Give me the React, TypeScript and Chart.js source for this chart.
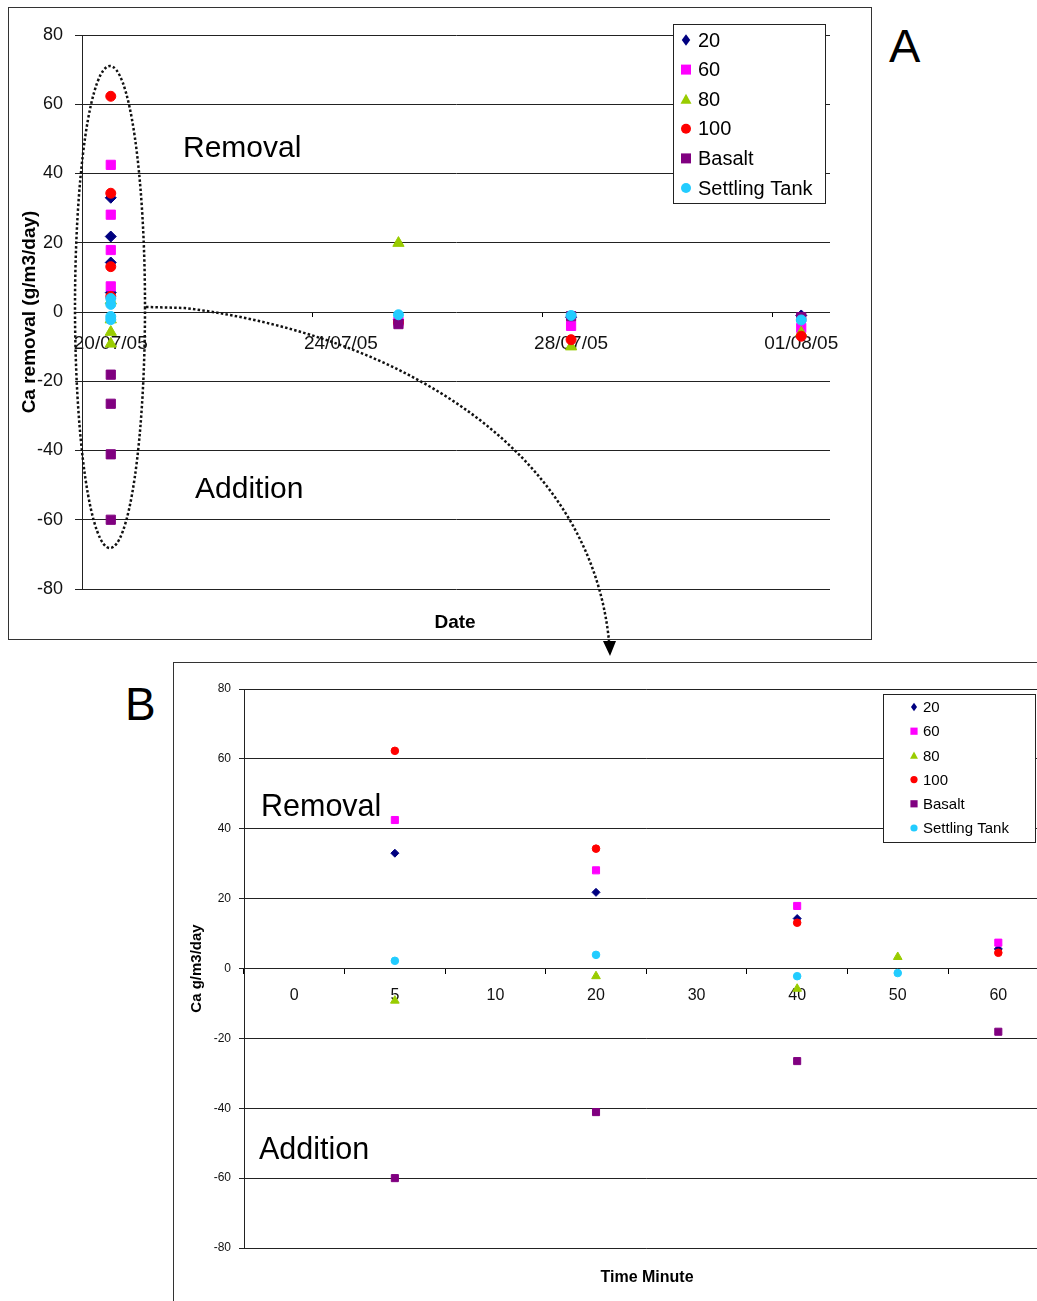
import React, { useEffect, useRef } from 'react';
import { Chart, registerables } from 'chart.js';

Chart.register(...registerables);

const FONT = "'Liberation Sans', Arial, Helvetica, sans-serif";
Chart.defaults.font.family = FONT;

// ---------- series definitions ----------
const seriesNames = ['20', '60', '80', '100', 'Basalt', 'Settling Tank'];
const seriesColors = ['#000080', '#FF00FF', '#99CC00', '#FF0000', '#800080', '#22CCFF'];
const seriesShapes = ['rectRot', 'rect', 'triangle', 'circle', 'rect', 'circle'];

// ---------- Chart B: minutes on 20/07/05 ----------
const minuteLabels = ['0', '5', '10', '20', '30', '40', '50', '60'];
const minutes20 = ['5', '20', '40', '60'];
const values20 = [33.0, 21.8, 14.3, 5.6];
const minutes60 = ['5', '20', '40', '60'];
const values60 = [42.5, 28.1, 17.9, 7.4];
const minutes80 = ['5', '20', '40', '50'];
const values80 = [-9.2, -2.2, -5.8, 3.3];
const minutes100 = ['5', '20', '40', '60'];
const values100 = [62.3, 34.3, 13.1, 4.5];
const minutesBasalt = ['5', '20', '40', '60'];
const valuesBasalt = [-60.0, -41.1, -26.5, -18.1];
const minutesSettling = ['5', '20', '40', '50'];
const valuesSettling = [2.2, 3.9, -2.2, -1.3];

// ---------- Chart A: dates ----------
const dateLabels = [
  '20/07/05', '21/07/05', '22/07/05', '23/07/05', '24/07/05', '25/07/05', '26/07/05',
  '27/07/05', '28/07/05', '29/07/05', '30/07/05', '31/07/05', '01/08/05',
];
const firstDate = '20/07/05';
const laterDates = ['25/07/05', '28/07/05', '01/08/05'];
const later20 = [-2.3, -1.5, -1.0];
const later60 = [-2.8, -4.0, -4.6];
const later80 = [19.9, -10.0, -6.0];
const later100 = [-3.0, -8.0, -7.0];
const laterBasalt = [-3.5, -1.2, -1.5];
const laterSettling = [-0.8, -1.0, -2.3];

const minuteSets = [minutes20, minutes60, minutes80, minutes100, minutesBasalt, minutesSettling];
const valueSets = [values20, values60, values80, values100, valuesBasalt, valuesSettling];
const laterSets = [later20, later60, later80, later100, laterBasalt, laterSettling];

const radiusA: Record<string, number> = { rectRot: 5.5, rect: 6.5, triangle: 6.5, circle: 5 };
const radiusB: Record<string, number> = { rectRot: 4, rect: 5, triangle: 5, circle: 3.8 };

function datasetsA() {
  return seriesNames.map((name, i) => ({
    label: name,
    data: valueSets[i]
      .map((v) => ({ x: firstDate, y: v }))
      .concat(laterDates.map((d, j) => ({ x: d, y: laterSets[i][j] }))),
    pointStyle: seriesShapes[i],
    pointRadius: radiusA[seriesShapes[i]],
    pointBackgroundColor: seriesColors[i],
    pointBorderColor: seriesColors[i],
    pointBorderWidth: 1,
    showLine: false,
    order: seriesNames.length - i,
  }));
}

function datasetsB() {
  return seriesNames.map((name, i) => ({
    label: name,
    data: minuteSets[i].map((m, j) => ({ x: m, y: valueSets[i][j] })),
    pointStyle: seriesShapes[i],
    pointRadius: radiusB[seriesShapes[i]],
    pointBackgroundColor: seriesColors[i],
    pointBorderColor: seriesColors[i],
    pointBorderWidth: 1,
    showLine: false,
    order: seriesNames.length - i,
  }));
}

function drawMarker(ctx: CanvasRenderingContext2D, shape: string, x: number, y: number, r: number, color: string) {
  ctx.beginPath();
  if (shape === 'circle') {
    ctx.arc(x, y, r, 0, Math.PI * 2);
  } else if (shape === 'rect') {
    ctx.rect(x - r, y - r, 2 * r, 2 * r);
  } else if (shape === 'rectRot') {
    ctx.moveTo(x, y - r * 1.15);
    ctx.lineTo(x + r * 0.85, y);
    ctx.lineTo(x, y + r * 1.15);
    ctx.lineTo(x - r * 0.85, y);
  } else {
    ctx.moveTo(x, y - r * 1.1);
    ctx.lineTo(x + r * 1.1, y + r * 0.9);
    ctx.lineTo(x - r * 1.1, y + r * 0.9);
  }
  ctx.closePath();
  ctx.fillStyle = color;
  ctx.fill();
}

const boxLegend = {
  id: 'boxLegend',
  afterDatasetsDraw(chart: any, _args: any, o: any) {
    const ctx: CanvasRenderingContext2D = chart.ctx;
    ctx.save();
    ctx.fillStyle = '#fff';
    ctx.fillRect(o.x, o.y, o.w, o.h);
    ctx.strokeStyle = '#222';
    ctx.lineWidth = 1;
    ctx.strokeRect(o.x + 0.5, o.y + 0.5, o.w, o.h);
    ctx.font = `${o.size}px ${FONT}`;
    ctx.textBaseline = 'middle';
    ctx.textAlign = 'left';
    chart.data.datasets.forEach((ds: any, i: number) => {
      const cy = o.y + o.firstRow + i * o.rowH;
      drawMarker(ctx, ds.pointStyle, o.x + o.markerX, cy, o.markerR, ds.pointBackgroundColor);
      ctx.fillStyle = '#000';
      ctx.fillText(ds.label, o.x + o.textX, cy + 1);
    });
    ctx.restore();
  },
};

function configA(): any {
  return {
    type: 'scatter',
    data: { labels: dateLabels, datasets: datasetsA() },
    options: {
      responsive: false,
      animation: false,
      layout: { padding: { left: 0, top: 28, right: 42, bottom: 51 } },
      plugins: {
        legend: { display: false },
        tooltip: { enabled: false },
        boxLegend: { x: 665, y: 17, w: 152, h: 179, firstRow: 16, rowH: 29.6, markerX: 13, textX: 25, size: 20, markerR: 5 },
      },
      scales: {
        x: {
          type: 'category',
          labels: dateLabels,
          position: { y: 0 },
          offset: true,
          grid: {
            offset: true,
            drawOnChartArea: false,
            drawTicks: true,
            tickLength: 5,
            color: (c: any) => (c.index % 4 === 0 ? '#000' : 'rgba(0,0,0,0)'),
          },
          border: { display: false },
          ticks: {
            autoSkip: false,
            maxRotation: 0,
            minRotation: 0,
            padding: 15.5,
            color: '#111',
            font: { family: FONT, size: 19 },
            callback: (_v: any, i: number) => (i % 4 === 0 ? dateLabels[i] : ''),
          },
        },
        y: {
          type: 'linear',
          min: -80,
          max: 80,
          afterFit: (s: any) => {
            s.width = 74;
          },
          ticks: { stepSize: 20, padding: 12, color: '#111', font: { family: FONT, size: 18 } },
          grid: { color: '#222', tickLength: 7, lineWidth: 1 },
          border: { color: '#222' },
          title: {
            display: true,
            text: 'Ca removal (g/m3/day)',
            color: '#000',
            font: { family: FONT, size: 19, weight: 'bold' },
            padding: { top: 10.6, bottom: 0 },
          },
        },
      },
    },
    plugins: [boxLegend],
  };
}

function configB(): any {
  return {
    type: 'scatter',
    data: { labels: minuteLabels, datasets: datasetsB() },
    options: {
      responsive: false,
      animation: false,
      layout: { padding: { left: 0, top: 27, right: 61.4, bottom: 74 } },
      plugins: {
        legend: { display: false },
        tooltip: { enabled: false },
        boxLegend: { x: 710, y: 32, w: 152, h: 148, firstRow: 13, rowH: 24.2, markerX: 31, textX: 40, size: 15, markerR: 3.6 },
      },
      scales: {
        x: {
          type: 'category',
          labels: minuteLabels,
          position: { y: 0 },
          offset: true,
          grid: { offset: true, drawOnChartArea: false, drawTicks: true, tickLength: 5, color: '#000' },
          border: { display: false },
          ticks: {
            autoSkip: false,
            maxRotation: 0,
            minRotation: 0,
            padding: 12.5,
            color: '#111',
            font: { family: FONT, size: 16 },
          },
        },
        y: {
          type: 'linear',
          min: -80,
          max: 80,
          afterFit: (s: any) => {
            s.width = 71;
          },
          ticks: { stepSize: 20, padding: 8, color: '#111', font: { family: FONT, size: 12 } },
          grid: { color: '#222', tickLength: 5, lineWidth: 1 },
          border: { color: '#222' },
          title: {
            display: true,
            text: 'Ca g/m3/day',
            color: '#000',
            font: { family: FONT, size: 15, weight: 'bold' },
            padding: { top: 15, bottom: 0 },
          },
        },
      },
    },
    plugins: [boxLegend],
  };
}

function ChartCanvas(props: { make: () => any; left: number; top: number; width: number; height: number }) {
  const ref = useRef<HTMLCanvasElement>(null);
  useEffect(() => {
    const chart = new Chart(ref.current as HTMLCanvasElement, props.make());
    return () => chart.destroy();
  }, []);
  return (
    <canvas
      ref={ref}
      width={props.width}
      height={props.height}
      style={{ position: 'absolute', left: props.left, top: props.top, width: props.width, height: props.height }}
    />
  );
}

const txt = (left: number, top: number, size: number, extra?: React.CSSProperties): React.CSSProperties => ({
  position: 'absolute',
  left,
  top,
  fontSize: size,
  lineHeight: 1,
  fontFamily: FONT,
  color: '#000',
  whiteSpace: 'nowrap',
  ...(extra || {}),
});

export default function App() {
  return (
    <div
      style={{
        position: 'absolute',
        left: 0,
        top: 0,
        width: 1037,
        height: 1301,
        overflow: 'hidden',
        background: '#fff',
      }}
    >
      <div style={{ position: 'absolute', left: 8, top: 7, width: 864, height: 633, border: '1px solid #333', boxSizing: 'border-box' }} />
      <div style={{ position: 'absolute', left: 173, top: 662, width: 950, height: 720, border: '1px solid #333', boxSizing: 'border-box' }} />
      <ChartCanvas make={configA} left={8} top={7} width={864} height={633} />
      <ChartCanvas make={configB} left={173} top={662} width={937} height={660} />
      <div style={txt(455, 612, 19, { fontWeight: 'bold', transform: 'translateX(-50%)' })}>Date</div>
      <div style={txt(647, 1269, 16, { fontWeight: 'bold', transform: 'translateX(-50%)' })}>Time Minute</div>
      <div style={txt(889, 22, 47)}>A</div>
      <div style={txt(125, 681, 46)}>B</div>
      <div style={txt(183, 132, 30)}>Removal</div>
      <div style={txt(195, 473, 30)}>Addition</div>
      <div style={txt(261, 790, 30.5)}>Removal</div>
      <div style={txt(259, 1133, 30.5)}>Addition</div>
      <svg
        width={1037}
        height={1301}
        style={{ position: 'absolute', left: 0, top: 0, pointerEvents: 'none' }}
      >
        <ellipse cx={110} cy={307} rx={35} ry={241} fill="none" stroke="#111" strokeWidth={2.5} strokeDasharray="2.5 2.2" />
        <path d="M146 307 L185 308 C 400 335, 590 450, 609 641" fill="none" stroke="#111" strokeWidth={2.5} strokeDasharray="2.5 2.2" />
        <polygon points="603,641 616,641 610,656" fill="#000" />
      </svg>
    </div>
  );
}
